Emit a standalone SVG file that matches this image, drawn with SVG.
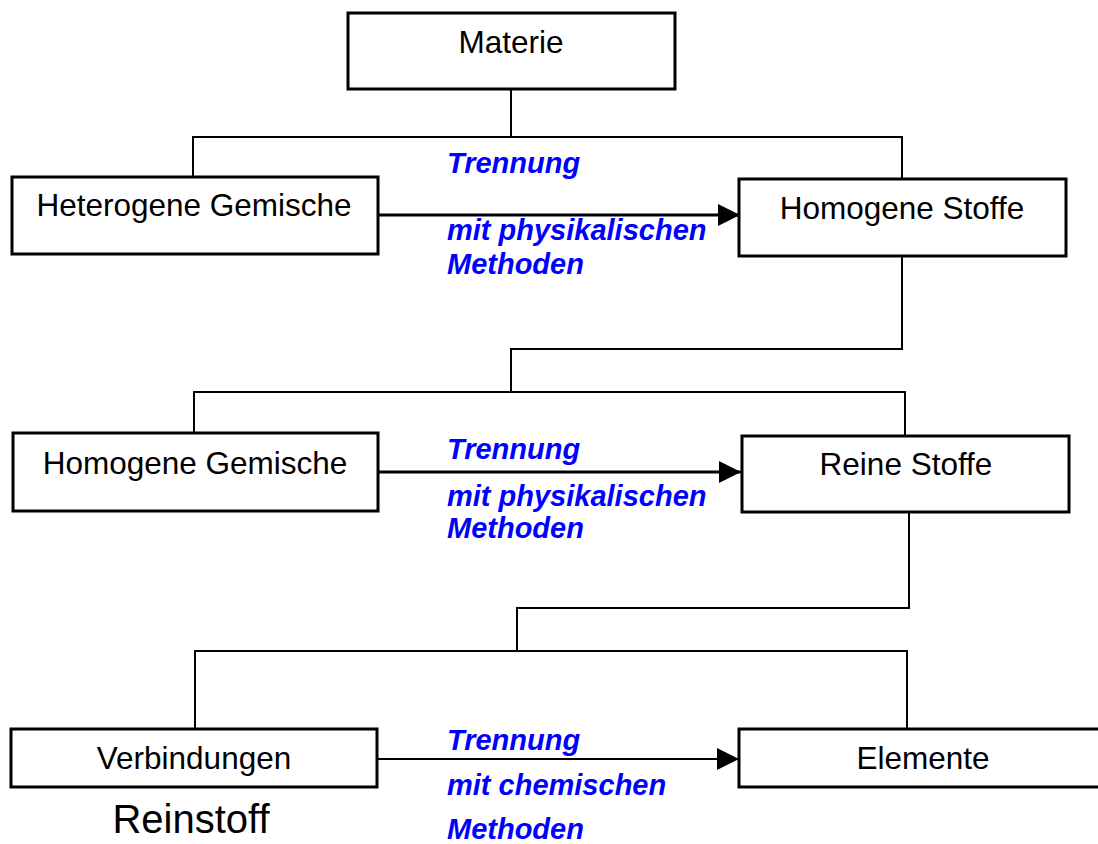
<svg xmlns="http://www.w3.org/2000/svg" width="1098" height="844" viewBox="0 0 1098 844">
<defs>
<style>
.box{fill:#fff;stroke:#000;stroke-width:3}
.lbl{font-family:"Liberation Sans",Arial,sans-serif;font-size:31.5px;fill:#000;text-anchor:middle}
.blue{font-family:"Liberation Sans",Arial,sans-serif;font-size:29px;font-weight:bold;font-style:italic;fill:#0000FF}
.ln{fill:none;stroke:#000;stroke-width:2}
.arr{fill:none;stroke:#000;stroke-width:3}
.arr2{fill:none;stroke:#000;stroke-width:2}
</style>
<marker id="ah" markerUnits="userSpaceOnUse" markerWidth="22" markerHeight="22" refX="22" refY="11" orient="auto">
<path d="M0,0 L22,11 L0,22 Z" fill="#000"/>
</marker>
</defs>
<rect width="1098" height="844" fill="#fff"/>
<g id="connectors">
<path class="ln" d="M511,89 V137 M193,177 V137 H902 V179"/>
<path class="ln" d="M902,256 V349 H511 V392 M194,433 V392 H905 V436"/>
<path class="ln" d="M909,512 V608 H517 V651 M195,729 V651 H907 V729"/>
<path class="arr" d="M378,215 H740" marker-end="url(#ah)"/>
<path class="arr" d="M378,472 H741" marker-end="url(#ah)"/>
<path class="arr2" d="M377,759 H739" marker-end="url(#ah)"/>
</g>
<g id="materie"><rect class="box" x="348" y="13" width="327" height="76"/><text class="lbl" x="511" y="53">Materie</text></g>
<g id="heterogene-gemische"><rect class="box" x="12" y="177" width="366" height="77"/><text class="lbl" x="194" y="216">Heterogene Gemische</text></g>
<g id="homogene-stoffe"><rect class="box" x="739" y="179" width="327" height="77"/><text class="lbl" x="902" y="219">Homogene Stoffe</text></g>
<g id="homogene-gemische"><rect class="box" x="13" y="433" width="365" height="78"/><text class="lbl" x="195" y="474">Homogene Gemische</text></g>
<g id="reine-stoffe"><rect class="box" x="742" y="436" width="327" height="76"/><text class="lbl" x="906" y="475">Reine Stoffe</text></g>
<g id="verbindungen"><rect class="box" x="11" y="729" width="366" height="58"/><text class="lbl" x="194" y="769">Verbindungen</text></g>
<g id="elemente"><rect class="box" x="739" y="729" width="370" height="58"/><text class="lbl" x="923" y="769">Elemente</text></g>
<g id="reinstoff"><text class="lbl" x="191" y="833" style="font-size:40px">Reinstoff</text></g>
<g id="labels">
<text class="blue" x="447" y="173">Trennung</text>
<text class="blue" x="447" y="240">mit physikalischen</text>
<text class="blue" x="447" y="274">Methoden</text>
<text class="blue" x="447" y="459">Trennung</text>
<text class="blue" x="447" y="506">mit physikalischen</text>
<text class="blue" x="447" y="538">Methoden</text>
<text class="blue" x="447" y="750">Trennung</text>
<text class="blue" x="447" y="795">mit chemischen</text>
<text class="blue" x="447" y="839">Methoden</text>
</g>
</svg>
